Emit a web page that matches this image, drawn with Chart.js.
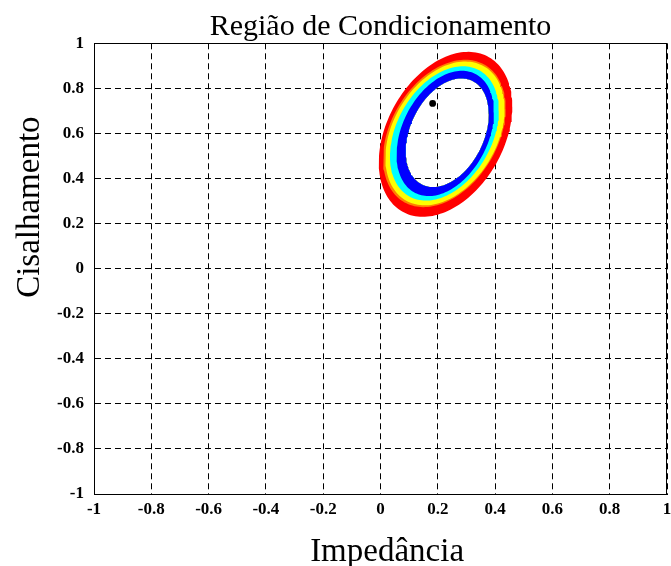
<!DOCTYPE html>
<html>
<head>
<meta charset="utf-8">
<title>Região de Condicionamento</title>
<script src="https://cdn.jsdelivr.net/npm/chart.js@4/dist/chart.umd.min.js"></script>
<style>
  html, body { margin: 0; padding: 0; background: #fff; overflow: hidden; }
  canvas { display: block; }
</style>
</head>
<body>
<canvas id="chart" width="671" height="566"></canvas>
<script>
// Axis ticks
const xTickValues = [-1, -0.8, -0.6, -0.4, -0.2, 0, 0.2, 0.4, 0.6, 0.8, 1];
const xTickLabels = ['-1', '-0.8', '-0.6', '-0.4', '-0.2', '0', '0.2', '0.4', '0.6', '0.8', '1'];
const yTickValues = [-1, -0.8, -0.6, -0.4, -0.2, 0, 0.2, 0.4, 0.6, 0.8, 1];
const yTickLabels = ['-1', '-0.8', '-0.6', '-0.4', '-0.2', '0', '0.2', '0.4', '0.6', '0.8', '1'];

// Contour levels of the conditioning region, outermost first; the last one
// is the inner edge of the region. Each is an ellipse given by its centre,
// half-width, half-height (in axis units) and the shared tilt (correlation).
const contourCentreX    = [0.227, 0.223, 0.225, 0.223, 0.226, 0.233];
const contourCentreY    = [0.596, 0.600, 0.600, 0.600, 0.600, 0.603];
const contourHalfWidth  = [0.233, 0.214, 0.208, 0.190, 0.170, 0.145];
const contourHalfHeight = [0.366, 0.327, 0.319, 0.298, 0.278, 0.241];
const contourTilt = 0.34;

// Colour of the band lying inside each contour level
const bandColors = ['#ff0000', '#ff8000', '#ffff00', '#00ffff', '#0000ff'];

// Operating point
const pointX = [0.182];
const pointY = [0.733];

const chartTitle = 'Região de Condicionamento';
const xTitle = 'Impedância';
const yTitle = 'Cisalhamento';

const SEGMENTS = 160;
function contourOutline(i, reverse) {
  const pts = [];
  const s = Math.sqrt(1 - contourTilt * contourTilt);
  for (let k = 0; k <= SEGMENTS; k++) {
    const t = ((reverse ? SEGMENTS - k : k) / SEGMENTS) * 2 * Math.PI;
    pts.push({
      x: contourCentreX[i] + contourHalfWidth[i] * Math.cos(t),
      y: contourCentreY[i] + contourHalfHeight[i] * (contourTilt * Math.cos(t) + s * Math.sin(t))
    });
  }
  return pts;
}

const innerEdge = contourHalfWidth.length - 1;
const datasets = bandColors.map((color, i) => ({
  label: 'nível ' + (i + 1),
  data: contourOutline(i, false).concat(contourOutline(innerEdge, true)),
  backgroundColor: color,
  borderColor: 'rgba(0,0,0,0)',
  borderWidth: 0,
  pointRadius: 0,
  tension: 0,
  fill: 'shape',
  order: bandColors.length - i + 1
}));

datasets.push({
  label: 'ponto',
  data: pointX.map((x, i) => ({ x, y: pointY[i] })),
  showLine: false,
  pointRadius: 3.4,
  pointBackgroundColor: '#000',
  pointBorderColor: '#000',
  pointBorderWidth: 0,
  order: 0
});

const serif = '"Liberation Serif", "Times New Roman", serif';

// Solid box around the plotting area
const framePlugin = {
  id: 'frame',
  afterDraw(chart) {
    const { ctx, chartArea: a } = chart;
    ctx.save();
    ctx.strokeStyle = '#000';
    ctx.lineWidth = 1;
    ctx.setLineDash([]);
    ctx.strokeRect(Math.round(a.left) + 0.5, Math.round(a.top) + 0.5,
                   Math.round(a.right - a.left) - 1, Math.round(a.bottom - a.top));
    ctx.restore();
  }
};

// Axis captions
const captionPlugin = {
  id: 'captions',
  afterDraw(chart) {
    const ctx = chart.ctx;
    ctx.save();
    ctx.font = '33px ' + serif;
    ctx.fillStyle = '#000';
    ctx.textAlign = 'center';
    ctx.textBaseline = 'alphabetic';
    // horizontal caption below the tick labels
    ctx.fillText(xTitle, chart.scales.x.getPixelForValue(0.023), 561);
    // vertical caption left of the tick labels
    ctx.translate(39, chart.scales.y.getPixelForValue(0.273));
    ctx.rotate(-Math.PI / 2);
    ctx.fillText(yTitle, 0, 0);
    ctx.restore();
  }
};

const tickFont = { family: serif, size: 17, weight: 'bold' };

new Chart(document.getElementById('chart'), {
  type: 'line',
  data: { datasets },
  plugins: [framePlugin, captionPlugin],
  options: {
    responsive: false,
    animation: false,
    events: [],
    layout: { padding: 0 },
    plugins: {
      legend: { display: false },
      tooltip: { enabled: false },
      title: {
        display: true,
        text: chartTitle,
        fullSize: false,
        color: '#000',
        font: { family: serif, size: 30, weight: 'normal' },
        padding: { top: 9, bottom: -1.7 }
      }
    },
    scales: {
      x: {
        type: 'linear',
        min: -1,
        max: 1,
        afterBuildTicks: s => { s.ticks = xTickValues.map(v => ({ value: v })); },
        afterFit: s => { s.height = 72; s.paddingLeft = 0; s.paddingRight = 0; },
        ticks: {
          autoSkip: false,
          maxRotation: 0,
          padding: 5,
          color: '#000',
          font: tickFont,
          callback: (v, i) => xTickLabels[i]
        },
        grid: { color: '#000', lineWidth: 1, drawTicks: false },
        border: { display: true, color: '#000', width: 1, dash: [6, 4] },
        title: { display: false }
      },
      y: {
        type: 'linear',
        min: -1,
        max: 1,
        afterBuildTicks: s => { s.ticks = yTickValues.map(v => ({ value: v })); },
        afterFit: s => { s.width = 94; },
        ticks: {
          autoSkip: false,
          padding: 10,
          color: '#000',
          font: tickFont,
          callback: (v, i) => yTickLabels[i]
        },
        grid: { color: '#000', lineWidth: 1, drawTicks: false },
        border: { display: true, color: '#000', width: 1, dash: [6, 4] },
        title: { display: false }
      }
    }
  }
});
</script>
</body>
</html>
